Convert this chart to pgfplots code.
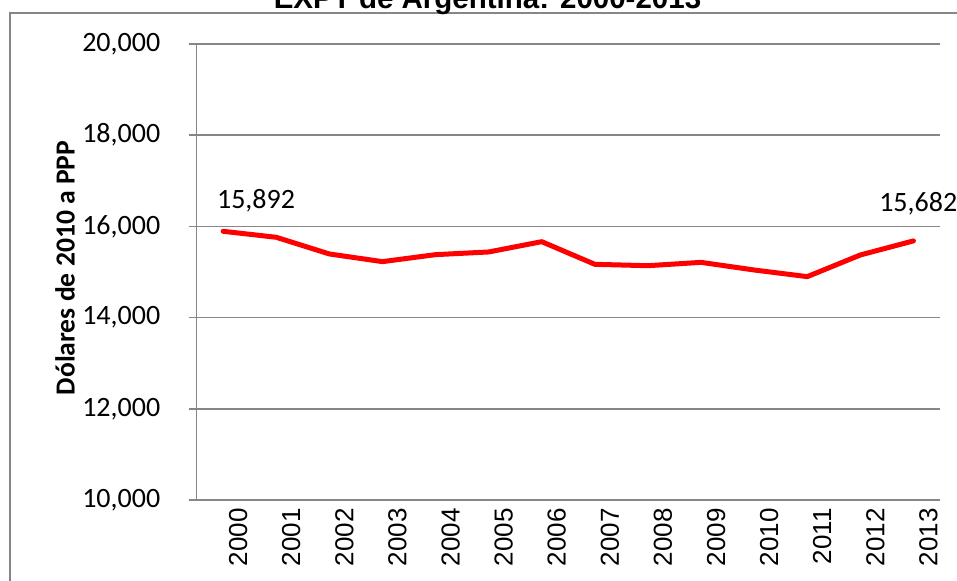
\documentclass[border=0pt]{standalone}
\usepackage{pgfplots}
\pgfplotsset{compat=1.18}
\usepackage{fontspec}
\newfontfamily\calibri{Carlito}
\newfontfamily\arial{Liberation Sans}
\definecolor{gridgray}{RGB}{134,134,134}
\begin{document}
\begin{tikzpicture}
\begin{scope}
\clip (0,0) rectangle (478.5pt,290.5pt);
\draw[gridgray, line width=0.75pt] (5pt,-10pt) -- (5pt,284pt) -- (500pt,284pt);
\node[font=\arial\bfseries\fontsize{14.75}{16}\selectfont, anchor=base, inner sep=0pt] at (243.75pt,286.3pt) {EXPT de Argentina: 2000-2013};
\node[rotate=90, font=\calibri\bfseries\fontsize{13.8}{16}\selectfont, inner sep=0pt] at (32.5pt,156.5pt) {Dólares de 2010 a PPP};
\begin{axis}[
  at={(98.3pt,40.5pt)}, anchor=south west,
  scale only axis, width=371.7pt, height=228pt,
  xmin=-0.5, xmax=13.5, ymin=10000, ymax=20000,
  axis x line*=bottom, axis y line*=left,
  axis line style={draw=gridgray, line width=0.75pt},
  ymajorgrids, grid style={draw=gridgray, line width=0.75pt},
  ytick={10000,12000,14000,16000,18000,20000},
  scaled y ticks=false,
  /pgf/number format/.cd, fixed, 1000 sep={,}, assume math mode=true, /pgfplots/.cd,
  xtick align=outside, ytick align=outside,
  major tick length=4pt,
  minor tick length=5pt,
  ytick style={draw=gridgray, line width=0.75pt},
  xtick={0,...,13},
  xticklabels={2000,2001,2002,2003,2004,2005,2006,2007,2008,2009,2010,2011,2012,2013},
  xtick style={draw=none},
  minor xtick={-0.5,0.5,...,13.5},
  minor tick style={draw=gridgray, line width=0.75pt},
  xticklabel style={rotate=90, anchor=east, font=\arial\fontsize{13}{15}\selectfont, inner sep=0pt, yshift=-7.5pt},
  yticklabel style={font=\calibri\fontsize{14}{16}\selectfont, anchor=east, inner sep=0pt, xshift=-14pt},
  clip=false,
]
\pgfplotsinvokeforeach{10000,12000,14000,16000,18000,20000}{
  \draw[gridgray, line width=0.75pt] (axis cs:-0.5,#1) -- ++(-4pt,0pt);
}
\addplot[red, line width=2.5pt, line join=round, line cap=round] coordinates {
(0,15892) (1,15761) (2,15395) (3,15227) (4,15380) (5,15439) (6,15665)
(7,15168) (8,15138) (9,15211) (10,15044) (11,14898) (12,15373) (13,15682)};
\node[font=\calibri\fontsize{14}{16}\selectfont, anchor=base, inner sep=0pt] at (axis cs:0.62,16382) {15,892};
\node[font=\calibri\fontsize{14}{16}\selectfont, anchor=base, inner sep=0pt] at (axis cs:13.09,16316) {15,682};
\end{axis}
\end{scope}
\pgfresetboundingbox
\path[use as bounding box] (0,0) rectangle (478.5pt,290.5pt);
\end{tikzpicture}
\end{document}
